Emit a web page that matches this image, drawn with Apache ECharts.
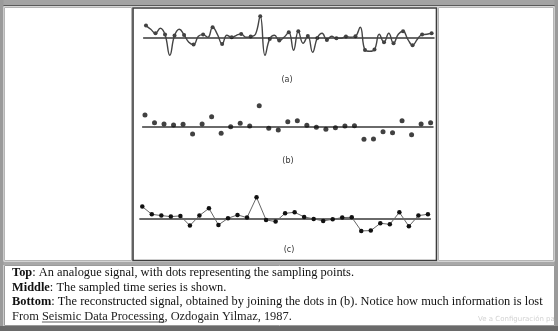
<!DOCTYPE html>
<html>
<head>
<meta charset="utf-8">
<script src="https://cdn.jsdelivr.net/npm/echarts@6/dist/echarts.min.js"></script>
<style>
  html, body { margin: 0; padding: 0; background: #fff; }
  #chart { width: 558px; height: 331px; }
</style>
</head>
<body>
<div id="chart"></div>
<script>
const samples = [11.7, 4, 2.7, 1.7, 2.4, -7.3, 2.7, 10, -6.6, 0, 3.4, 0.7, 21, -1.6, -3.3, 5,
  6, 1.4, -0.6, -2.6, -1, 0.7, 1, -12.6, -12.3, -5, -6, 6, -8, 2.7, 4];
// analogue trace: the samples plus one reading half way between each pair (panel a)
const analogue = [11.7, 8, 4, 9, 2.7, -18, 1.7, 8, 2.4, -5, -7.3, 1, 2.7, 0, 10, 3, -6.6, 2, 0, 2,
  3.4, 0, 0.7, 3, 21, -18, -1.6, 2, -3.3, 0, 5, -13, 6, -6, 1.4, -15, -0.6, 4, -2.6, 1,
  -1, -1, 0.7, 0, 1, 10, -12.6, -14, -12.3, 3, -5, 4, -6, 3, 6, -2, -8, -2, 2.7, 3, 4];
const panelLabels = ['(a)', '(b)', '(c)'];
const captionLines = [
  ['Top', ': An analogue signal, with dots representing the sampling points.'],
  ['Middle', ': The sampled time series is shown.'],
  ['Bottom', ': The reconstructed signal, obtained by joining the dots in (b). Notice how much information is lost'],
];
const sourceLine = ['From ', 'Seismic Data Processing', ', Ozdogain Yilmaz, 1987.'];

const serif = '"Liberation Serif", "DejaVu Serif", serif';
const captionSize = 12.4;

const chart = echarts.init(document.getElementById('chart'));

// panel boxes: zero line position and left edge of each trace
const panels = [
  { left: 143.6, top: 12.3, label: [287, 80] },
  { left: 142.6, top: 101.7, label: [288, 161] },
  { left: 139.9, top: 193.3, label: [289, 250] },
];

const grids = panels.map(p => ({ left: p.left, top: p.top, width: 290.4, height: 50 }));
const xAxes = panels.map((p, i) => ({
  type: 'value', gridIndex: i, min: -0.25, max: 30.25,
  axisLine: { show: true, onZero: true, lineStyle: { color: '#3a3a3a', width: 1.5 } },
  axisTick: { show: false }, axisLabel: { show: false }, splitLine: { show: false },
}));
const yAxes = panels.map((p, i) => ({
  type: 'value', gridIndex: i, min: -25, max: 25, show: false,
}));

const sampleData = samples.map((v, i) => [i, v]);

// measure caption pieces for the underline under the book title
const ctx = document.createElement('canvas').getContext('2d');
ctx.font = captionSize + 'px ' + serif;
const fromW = ctx.measureText(sourceLine[0]).width;
const titleW = ctx.measureText(sourceLine[1]).width;

const textX = 12;
const lineY = [273, 287.5, 302, 316.5];

const graphic = [
  // outer table frame
  { type: 'rect', shape: { x: 0, y: 0, width: 558, height: 6 }, style: { fill: '#a3a3a3' }, z: 10 },
  { type: 'rect', shape: { x: 0, y: 5, width: 558, height: 1.2 }, style: { fill: '#5a5a5a' }, z: 10 },
  { type: 'rect', shape: { x: 0, y: 0, width: 3.5, height: 331 }, style: { fill: '#9a9a9a' }, z: 10 },
  { type: 'rect', shape: { x: 554.5, y: 0, width: 3.5, height: 331 }, style: { fill: '#9a9a9a' }, z: 10 },
  { type: 'rect', shape: { x: 0, y: 326, width: 558, height: 5 }, style: { fill: '#6a6a6a' }, z: 10 },
  // side cells
  { type: 'rect', shape: { x: 4.5, y: 7.5, width: 127, height: 253 }, style: { fill: 'none', stroke: '#b5b5b5', lineWidth: 1 } },
  { type: 'rect', shape: { x: 438.5, y: 7.5, width: 115, height: 253 }, style: { fill: 'none', stroke: '#b5b5b5', lineWidth: 1 } },
  // figure cell
  { type: 'rect', shape: { x: 133, y: 8, width: 303.5, height: 252.5 }, style: { fill: 'none', stroke: '#3c3c3c', lineWidth: 1.6 } },
  // caption cell
  { type: 'rect', shape: { x: 0, y: 261.5, width: 558, height: 3.5 }, style: { fill: '#a8a8a8' } },
  { type: 'rect', shape: { x: 4.5, y: 265.5, width: 550, height: 60 }, style: { fill: 'none', stroke: '#9a9a9a', lineWidth: 1 } },
];

panels.forEach((p, i) => {
  graphic.push({
    type: 'text', x: p.label[0], y: p.label[1],
    style: { text: panelLabels[i], font: '8px "DejaVu Sans", sans-serif', fill: '#333', align: 'center', verticalAlign: 'middle' },
  });
});

captionLines.forEach((ln, i) => {
  graphic.push({
    type: 'text', x: textX, y: lineY[i],
    style: {
      text: '{b|' + ln[0] + '}' + ln[1],
      font: captionSize + 'px ' + serif, fill: '#111', verticalAlign: 'middle',
      rich: { b: { fontWeight: 'bold', fontFamily: serif, fontSize: captionSize, fill: '#111' } },
    },
  });
});

graphic.push({
  type: 'text', x: textX, y: lineY[3],
  style: { text: sourceLine.join(''), font: captionSize + 'px ' + serif, fill: '#222', verticalAlign: 'middle' },
});
graphic.push({
  type: 'line', shape: { x1: textX + fromW, y1: lineY[3] + 5.5, x2: textX + fromW + titleW, y2: lineY[3] + 5.5 },
  style: { stroke: '#333', lineWidth: 0.8 },
});
// faint screen watermark, bottom right
graphic.push({
  type: 'text', x: 478, y: 319,
  style: { text: 'Ve a Configuración para', font: '7px "DejaVu Sans", sans-serif', fill: '#d2d2d2', verticalAlign: 'middle' },
});

const option = {
  backgroundColor: '#fff',
  animation: false,
  grid: grids,
  xAxis: xAxes,
  yAxis: yAxes,
  series: [
    {
      name: 'analogue', type: 'line', xAxisIndex: 0, yAxisIndex: 0,
      data: analogue.map((v, i) => [i / 2, v]),
      smooth: 0.45, showSymbol: false,
      lineStyle: { color: '#444', width: 1.4 },
    },
    {
      name: 'samples a', type: 'scatter', xAxisIndex: 0, yAxisIndex: 0,
      data: sampleData, symbolSize: 4, itemStyle: { color: '#111' },
    },
    {
      name: 'samples b', type: 'scatter', xAxisIndex: 1, yAxisIndex: 1,
      data: sampleData, symbolSize: 5, itemStyle: { color: '#111' },
    },
    {
      name: 'reconstructed', type: 'line', xAxisIndex: 2, yAxisIndex: 2,
      data: sampleData, symbol: 'circle', symbolSize: 4.5,
      itemStyle: { color: '#111' },
      lineStyle: { color: '#666', width: 1 },
    },
  ],
  graphic: graphic,
};

chart.setOption(option);
</script>
</body>
</html>
